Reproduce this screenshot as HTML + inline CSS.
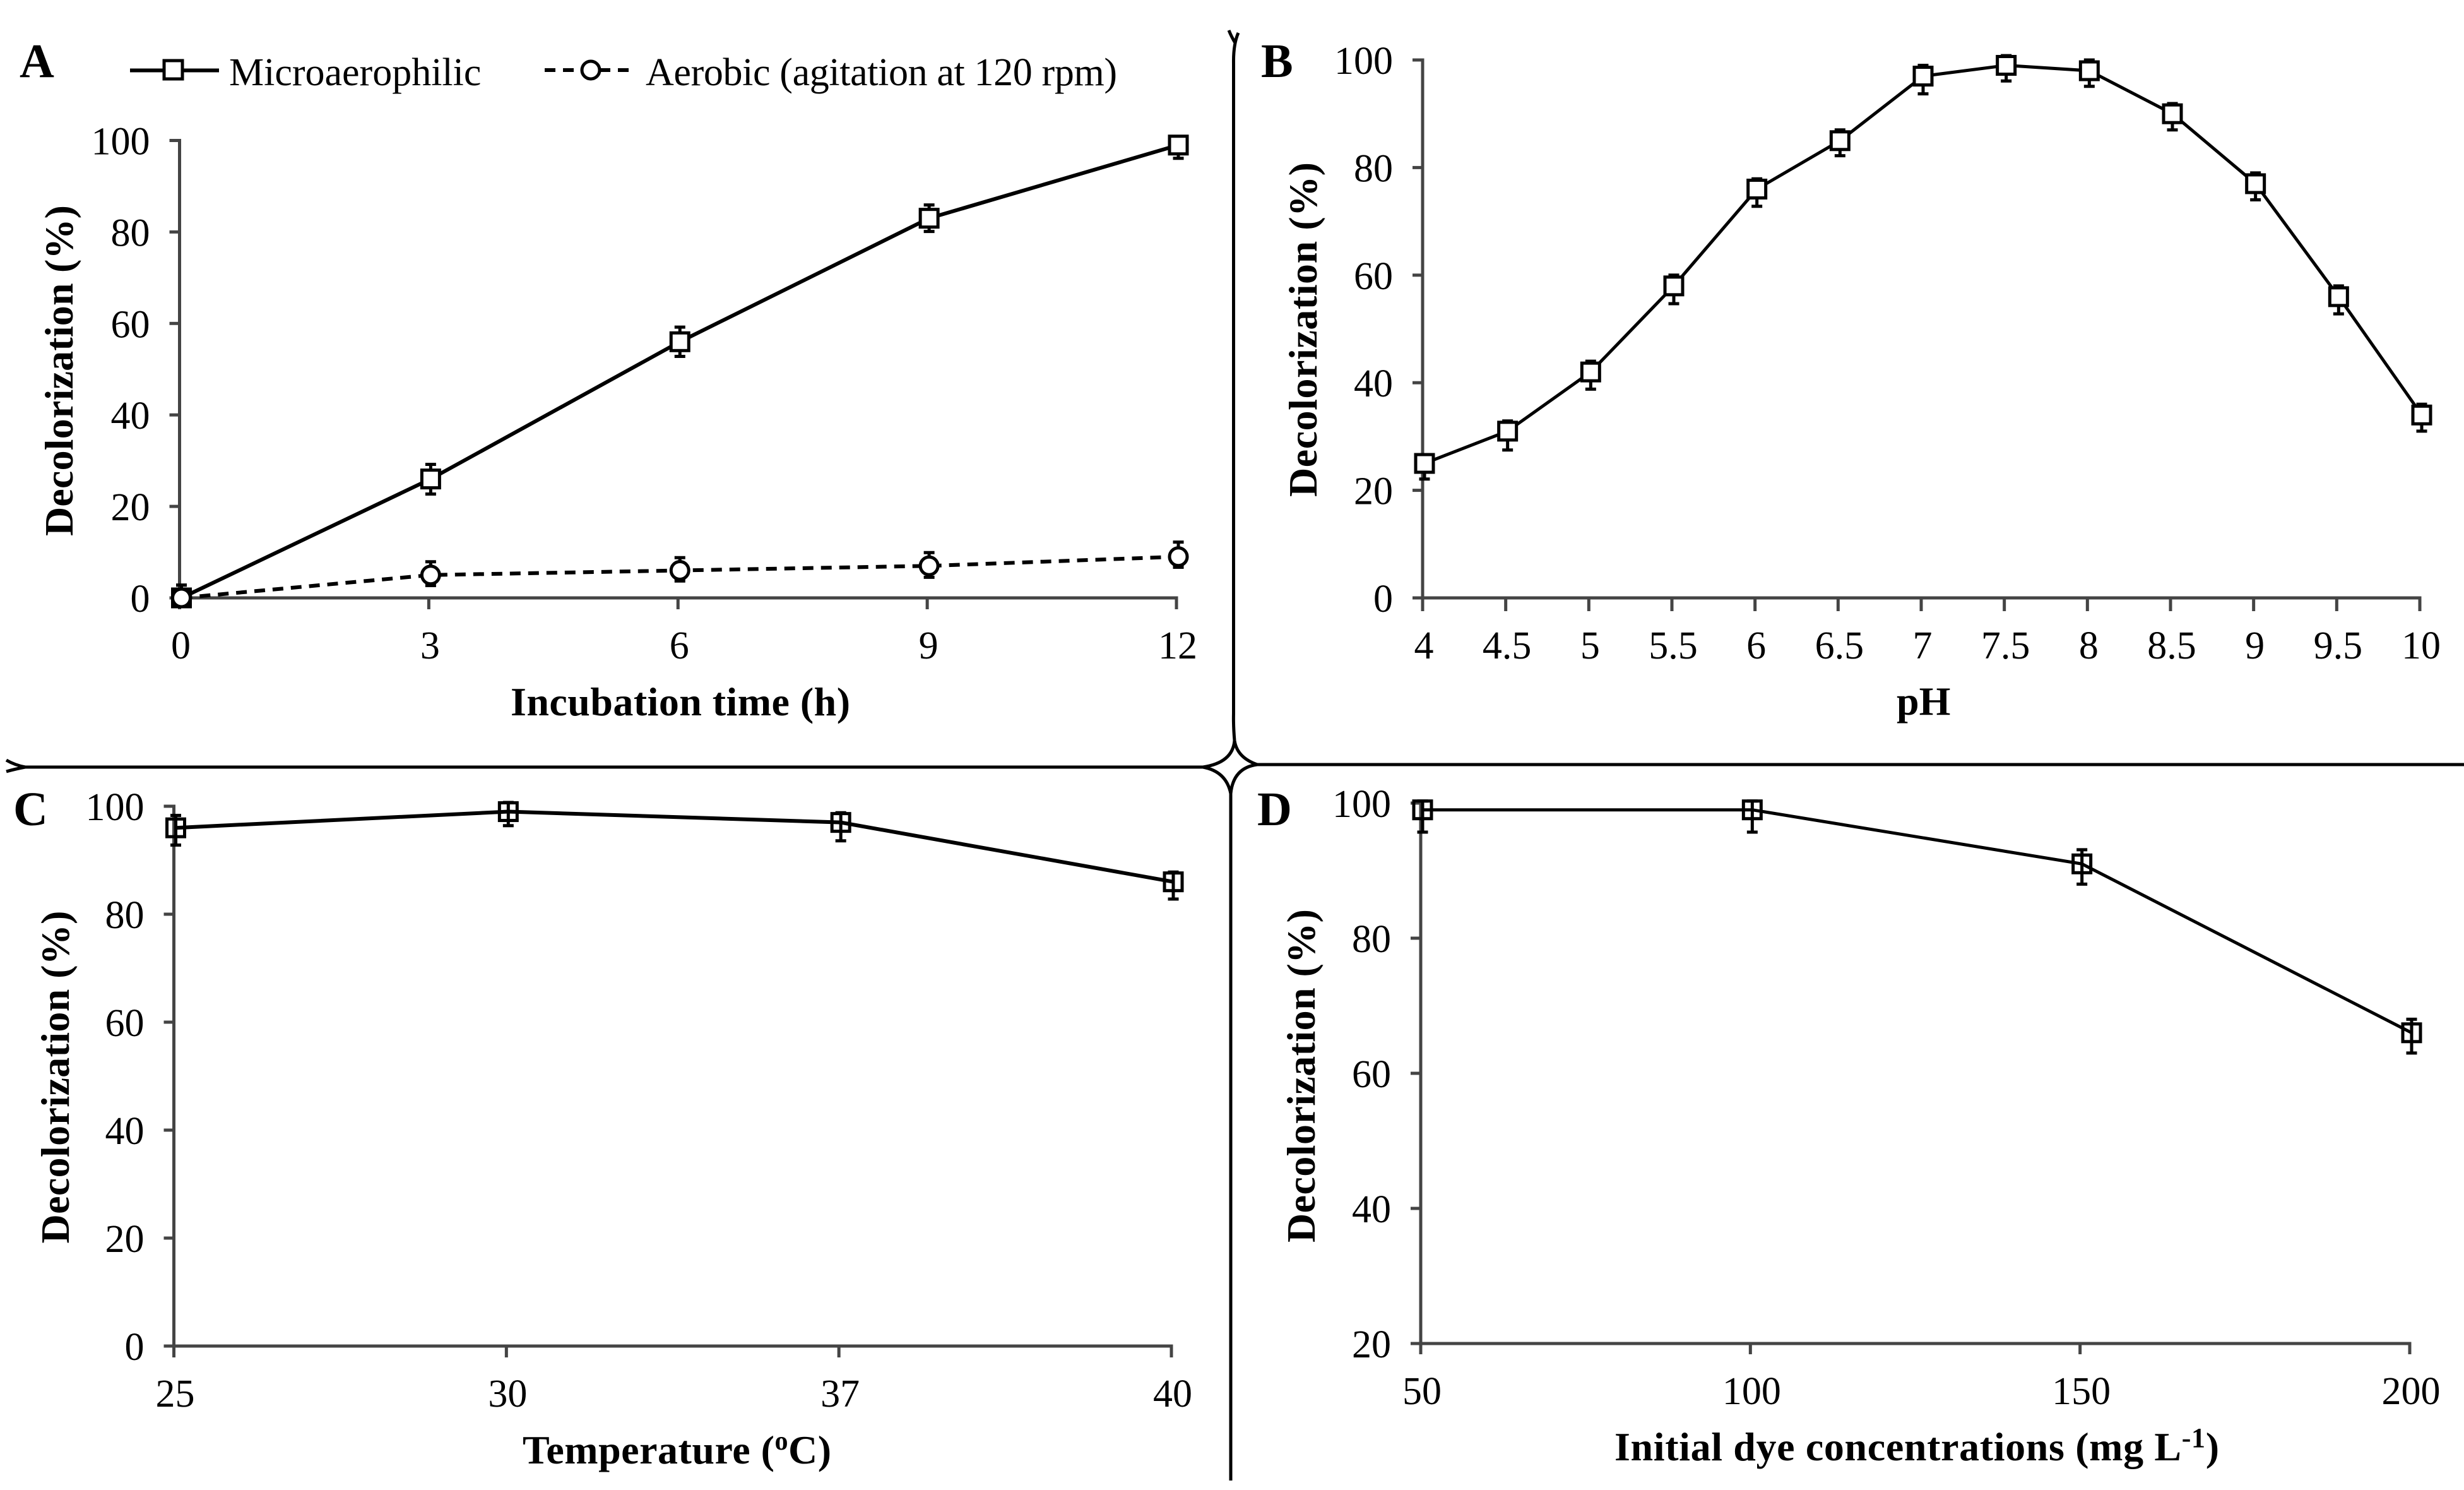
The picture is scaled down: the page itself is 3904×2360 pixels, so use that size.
<!DOCTYPE html>
<html lang="en">
<head>
<meta charset="utf-8">
<title>Decolorization charts</title>
<style>
html,body{margin:0;padding:0;background:#fff;}
svg{display:block;}
text{font-family:"Liberation Serif",serif;fill:#000;}
.tick{font-size:62px;}
.bold{font-size:64px;font-weight:bold;}
.panel{font-size:76px;font-weight:bold;}
.legend{font-size:62px;}
</style>
</head>
<body>
<svg id="figure" xmlns="http://www.w3.org/2000/svg" width="3904" height="2360" viewBox="0 0 3904 2360">
  <rect x="0" y="0" width="3904" height="2360" fill="#fff"/>
  <g fill="none" stroke="#000" stroke-width="5">
    <path d="M1962 52Q1954 70 1954.5 100V1130Q1954 1150 1956 1173"/>
    <path d="M1947 48Q1951 58 1957 68"/>
    <path d="M36 1215H1907"/>
    <path d="M10 1204Q24 1212 40 1215M10 1222Q24 1218 40 1215"/>
    <path d="M1992 1211H3904"/>
    <path d="M1950 1257V2345"/>
    <path d="M1956 1173Q1953 1208 1906 1215"/>
    <path d="M1956 1173Q1960 1200 1992 1211"/>
    <path d="M1906 1215Q1943 1222 1950 1257"/>
    <path d="M1992 1211Q1954 1216 1950 1257"/>
  </g>

  <text class="panel" x="31" y="122">A</text>
  <text class="panel" x="1998" y="122">B</text>
  <text class="panel" x="21" y="1307">C</text>
  <text class="panel" x="1992" y="1307">D</text>

  <g>
    <line x1="206" y1="111.5" x2="347" y2="111.5" stroke="#000" stroke-width="6"/>
    <rect x="260" y="96" width="29" height="29" fill="#fff" stroke="#000" stroke-width="5"/>
    <text class="legend" x="363" y="135">Microaerophilic</text>
    <line x1="863" y1="111" x2="996" y2="111" stroke="#000" stroke-width="6" stroke-dasharray="17 12"/>
    <circle cx="936" cy="111" r="14" fill="#fff" stroke="#000" stroke-width="5"/>
    <text class="legend" x="1023" y="135" textLength="747">Aerobic (agitation at 120 rpm)</text>
  </g>

  <text class="bold" transform="translate(115 587) rotate(-90)" text-anchor="middle" textLength="524">Decolorization (%)</text>
  <text class="bold" transform="translate(2086 522) rotate(-90)" text-anchor="middle" textLength="530">Decolorization (%)</text>
  <text class="bold" transform="translate(109 1706) rotate(-90)" text-anchor="middle" textLength="527">Decolorization (%)</text>
  <text class="bold" transform="translate(2083 1704) rotate(-90)" text-anchor="middle" textLength="528">Decolorization (%)</text>

  <text class="bold" x="809" y="1133" textLength="538">Incubation time (h)</text>
  <text class="bold" x="3005" y="1132">pH</text>
  <text class="bold" x="828" y="2318" textLength="489">Temperature (<tspan font-size="42" dy="-22">o</tspan><tspan dy="22">C)</tspan></text>
  <text class="bold" x="2558" y="2313" textLength="958">Initial dye concentrations (mg L<tspan font-size="44" dy="-21">-1</tspan><tspan dy="21">)</tspan></text>

  <g id="plots"></g>
</svg>
<script>
// Panel A
const timeCategories = ['0', '3', '6', '9', '12'];
const timeYTicks = [0, 20, 40, 60, 80, 100];
const microaerophilicValues = [0, 26, 56, 83, 99];
const microaerophilicErrorsUp = [2.8, 3.2, 3.2, 2.9, 1.8];
const microaerophilicErrorsDown = [1.5, 3.3, 3.2, 2.9, 2.9];
const aerobicValues = [0, 5, 6, 7, 9];
const aerobicErrorsUp = [2.8, 2.9, 2.8, 2.9, 3.2];
const aerobicErrorsDown = [1.5, 2.3, 2.3, 2.5, 2.3];

// Panel B
const phCategories = ['4', '4.5', '5', '5.5', '6', '6.5', '7', '7.5', '8', '8.5', '9', '9.5', '10'];
const phYTicks = [0, 20, 40, 60, 80, 100];
const phValues = [25, 31, 42, 58, 76, 85, 97, 99, 98, 90, 77, 56, 34];
const phErrorsUp = [1.5, 1.9, 2, 2, 1.9, 2, 2, 1.8, 2, 1.9, 2, 2, 2];
const phErrorsDown = [2.9, 3.5, 3.2, 3.3, 3.2, 2.8, 3.3, 2.9, 2.9, 3, 3, 3.2, 3];

// Panel C
const tempCategories = ['25', '30', '37', '40'];
const tempYTicks = [0, 20, 40, 60, 80, 100];
const tempValues = [96, 99, 97, 86];
const tempErrorsUp = [2.3, 1.7, 1.8, 1.8];
const tempErrorsDown = [3.2, 2.6, 3.4, 3.2];

// Panel D
const doseCategories = ['50', '100', '150', '200'];
const doseYTicks = [20, 40, 60, 80, 100];
const doseValues = [99, 99, 91, 66];
const doseErrorsUp = [1.3, 1.3, 2.1, 2];
const doseErrorsDown = [3.3, 3.3, 3, 3];

const SVG_NS = 'http://www.w3.org/2000/svg';
const AXIS_COLOR = '#444';
const plots = document.getElementById('plots');

function svgEl(tag, attrs, parent) {
  const el = document.createElementNS(SVG_NS, tag);
  for (const key in attrs) el.setAttribute(key, attrs[key]);
  parent.appendChild(el);
  return el;
}

function drawAxes(g, frame, categories, yTicks, xScale, yScale) {
  const yAxis = svgEl('line', {x1: frame.x0, x2: frame.x0, y1: frame.yTop - 2.5, y2: frame.y0 + frame.xTick, stroke: AXIS_COLOR, 'stroke-width': 5}, g);
  
  
  const xAxis = svgEl('line', {x1: frame.x0 - 16, x2: frame.x1 + 2.5, y1: frame.y0, y2: frame.y0, stroke: AXIS_COLOR, 'stroke-width': 5}, g);
  
  

  yTicks.forEach(function (tick) {
    const y = yScale(tick);
    const mark = svgEl('line', {x1: frame.x0 - 16, x2: frame.x0, y1: y, y2: y, stroke: AXIS_COLOR, 'stroke-width': 5}, g);
    
    
    const label = svgEl('text', {class: 'tick', x: frame.x0 - 47, y: y + 22, 'text-anchor': 'end'}, g);
    
    
    label.textContent = tick;
  });

  categories.forEach(function (cat, i) {
    const x = xScale(i);
    const mark = svgEl('line', {x1: x, x2: x, y1: frame.y0, y2: frame.y0 + frame.xTick, stroke: AXIS_COLOR, 'stroke-width': 5}, g);
    
    
    const label = svgEl('text', {class: 'tick', x: x + 2, y: frame.y0 + 96, 'text-anchor': 'middle'}, g);
    
    
    label.textContent = cat;
  });
}

function drawSeries(g, name, values, errorsUp, errorsDown, xScale, yScale, style) {
  const points = values.map(function (v, i) { return (xScale(i) + 3) + ',' + yScale(v); }).join(' ');
  const errorBars = function () {
    values.forEach(function (v, i) {
      const x = xScale(i) + 3;
      const hi = yScale(v + errorsUp[i]);
      const lo = yScale(v - errorsDown[i]);
      const bar = svgEl('path', {d: 'M' + x + ' ' + hi + 'V' + lo + 'M' + (x - 8.5) + ' ' + hi + 'H' + (x + 8.5) + 'M' + (x - 8.5) + ' ' + lo + 'H' + (x + 8.5), fill: 'none', stroke: '#000', 'stroke-width': 5}, g);
      
      
    });
  };
  const line = function () {
    const poly = svgEl('polyline', {points: points, fill: 'none', stroke: '#000', 'stroke-width': style.width, 'stroke-dasharray': style.dash || 'none'}, g);
    
    
  };
  const markers = function () {
    values.forEach(function (v, i) {
      const x = xScale(i) + 3;
      const y = yScale(v);
      const m = style.circle
        ? svgEl('circle', {cx: x, cy: y, r: 14, fill: style.fill, stroke: '#000', 'stroke-width': 5}, g)
        : svgEl('rect', {x: x - 14, y: y - 14, width: 28, height: 28, fill: style.fill, stroke: '#000', 'stroke-width': 5}, g);
      
      
    });
  };
  if (style.fill === 'none') { line(); markers(); errorBars(); }
  else { errorBars(); line(); markers(); }
}

function makePanel(panelName, frame, categories, yTicks, yMin, yMax) {
  const g = svgEl('g', {}, plots);
  
  
  const xScale = function (i) { return frame.x0 + (frame.x1 - frame.x0) * i / (categories.length - 1); };
  const yScale = function (v) { return frame.y0 + (frame.yTop - frame.y0) * (v - yMin) / (yMax - yMin); };
  drawAxes(g, frame, categories, yTicks, xScale, yScale);
  return {g: g, xScale: xScale, yScale: yScale};
}

const panelA = makePanel('chart-a-incubation-time', {x0: 284.5, x1: 1864, y0: 947, yTop: 222.5, xTick: 18}, timeCategories, timeYTicks, 0, 100);
drawSeries(panelA.g, 'microaerophilic', microaerophilicValues, microaerophilicErrorsUp, microaerophilicErrorsDown, panelA.xScale, panelA.yScale, {width: 6, fill: '#fff'});
drawSeries(panelA.g, 'aerobic', aerobicValues, aerobicErrorsUp, aerobicErrorsDown, panelA.xScale, panelA.yScale, {width: 6, fill: '#fff', circle: true, dash: '17 12'});

const panelB = makePanel('chart-b-ph', {x0: 2254, x1: 3834, y0: 947, yTop: 95, xTick: 21}, phCategories, phYTicks, 0, 100);
drawSeries(panelB.g, 'ph', phValues, phErrorsUp, phErrorsDown, panelB.xScale, panelB.yScale, {width: 5, fill: '#fff'});

const panelC = makePanel('chart-c-temperature', {x0: 275.5, x1: 1856, y0: 2132, yTop: 1277, xTick: 18}, tempCategories, tempYTicks, 0, 100);
drawSeries(panelC.g, 'temperature', tempValues, tempErrorsUp, tempErrorsDown, panelC.xScale, panelC.yScale, {width: 6, fill: 'none'});

const panelD = makePanel('chart-d-dye-concentration', {x0: 2251, x1: 3818, y0: 2128, yTop: 1272, xTick: 17}, doseCategories, doseYTicks, 20, 100);
drawSeries(panelD.g, 'dye-concentration', doseValues, doseErrorsUp, doseErrorsDown, panelD.xScale, panelD.yScale, {width: 5, fill: 'none'});
</script>
</body>
</html>
